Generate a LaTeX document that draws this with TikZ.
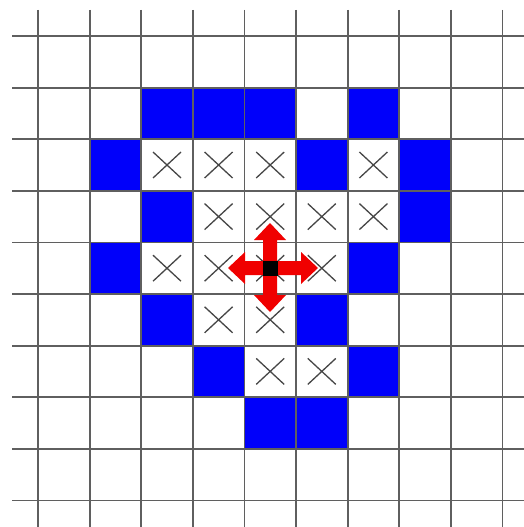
\documentclass[tikz,border=0pt]{standalone}
\usetikzlibrary{calc}
\begin{document}
\begin{tikzpicture}[x=1pt,y=-1pt,
  cellfill/.style={fill={rgb,255:red,0;green,0;blue,250}},
  gridline/.style={draw={rgb,255:red,95;green,95;blue,95},line width=1.8pt},
  xmark/.style={draw={rgb,255:red,70;green,70;blue,70},line width=1.3pt},
  arrowfill/.style={fill={rgb,255:red,240;green,0;blue,0}}]
\useasboundingbox (0,0) rectangle (524,527);
\fill[white] (0,0) rectangle (524,527);
\def\s{51.6}
% blue cells
\foreach \c/\r in {2/1,3/1,4/1,6/1,1/2,5/2,7/2,2/3,7/3,1/4,6/4,2/5,5/5,3/6,6/6,4/7,5/7}
  \fill[cellfill] ({38+\s*\c},{36+\s*\r}) rectangle +(\s,\s);
% crosses
\foreach \c/\r in {2/2,3/2,4/2,6/2,3/3,4/3,5/3,6/3,2/4,3/4,4/4,5/4,3/5,4/5,4/6,5/6}
  \path[xmark] ({38+\s*\c+\s/2-14},{36+\s*\r+\s/2-13}) -- ++(28,26)
               ({38+\s*\c+\s/2+14},{36+\s*\r+\s/2-13}) -- ++(-28,26);
% grid
\foreach \i in {0,...,9} {
  \path[gridline] ({38+\s*\i},10) -- ({38+\s*\i},527);
  \path[gridline] (12,{36+\s*\i}) -- (524,{36+\s*\i});
}
% four-way arrow
\coordinate (ctr) at (270,268);
\fill[arrowfill] (277,261) -- (301,261) -- (301,252) -- (318,268) -- (301,284) -- (301,275)
  -- (277,275) -- (277,295) -- (286,295) -- (270,312) -- (254,295) -- (263,295)
  -- (263,275) -- (245,275) -- (245,284) -- (228,268) -- (245,252) -- (245,261)
  -- (263,261) -- (263,240) -- (254,240) -- (270,223) -- (286,240) -- (277,240) -- cycle;
\fill[black] ($(ctr)+(-7.5,-7.5)$) rectangle +(15,15);
\end{tikzpicture}
\end{document}
